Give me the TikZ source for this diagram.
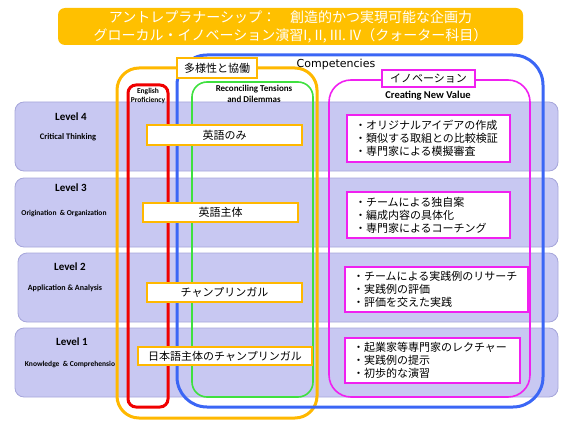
\documentclass[tikz,border=0pt]{standalone}
\usepackage{fontspec}
\setmainfont{Carlito}
\newfontfamily\jpfont{Noto Sans CJK JP}
\newfontfamily\compfont{DejaVu Sans}
\usetikzlibrary{positioning}
\definecolor{titleorange}{HTML}{FFC000}
\definecolor{grporange}{HTML}{FFB800}
\definecolor{grpred}{HTML}{F00000}
\definecolor{grpblue}{HTML}{3B66F5}
\definecolor{grpgreen}{HTML}{3FE03F}
\definecolor{grpmagenta}{HTML}{F020F0}
\definecolor{bandfill}{HTML}{C8C8F2}
\definecolor{bandline}{HTML}{A6A6DA}
\begin{document}
\begin{tikzpicture}[x=1pt, y=-1pt,
    band/.style={draw=bandline, fill=bandfill, line width=0.8pt, rounded corners=9pt},
    lvname/.style={font=\bfseries\fontsize{11}{13}\selectfont},
    lvsub/.style={font=\bfseries\fontsize{8}{9}\selectfont},
    group/.style={line width=3pt},
    thingroup/.style={line width=1.6pt},
    tagbox/.style={draw, fill=white, line width=1.8pt, inner sep=0pt, font=\jpfont\fontsize{11}{13}\selectfont},
    engbox/.style={draw=grporange, fill=white, line width=2pt, inner sep=0pt, font=\jpfont\fontsize{11}{13}\selectfont},
    listbox/.style={draw=grpmagenta, fill=white, line width=2pt, inner xsep=8pt, inner ysep=0pt, align=left,
      font=\jpfont\fontsize{11}{13}\selectfont},
    head/.style={font=\bfseries\fontsize{9}{11}\selectfont, align=center}]
  \useasboundingbox (0,0) rectangle (567,425);
  % title
  \node[fill=titleorange, rounded corners=7pt, minimum width=465pt, minimum height=37pt, inner sep=0pt,
    text=white, align=center, font=\jpfont\fontsize{14}{18}\selectfont] (title) at (290.5,26.5)
    {アントレプラナーシップ：　創造的かつ実現可能な企画力\\グローカル・イノベーション演習I, II, III. IV（クォーター科目）};
  % level bands
  \node[band, minimum width=543pt, minimum height=69pt] (lv4) at (286.5,136.5) {};
  \node[band, minimum width=543pt, minimum height=69pt] (lv3) at (286.5,212.5) {};
  \node[band, minimum width=540pt, minimum height=69pt] (lv2) at (288,287.5) {};
  \node[band, minimum width=543pt, minimum height=69pt] (lv1) at (286.5,362.5) {};
  \node[lvname] (lv4name) at (71,117) {Level 4};
  \node[lvsub, font=\bfseries\fontsize{8.5}{9}\selectfont] (lv4sub) at (68,137) {Critical Thinking};
  \node[lvname] (lv3name) at (71,188) {Level 3};
  \node[lvsub, font=\bfseries\fontsize{7.5}{9}\selectfont] (lv3sub) at (64,213) {Origination \ \&\ Organization};
  \node[lvname] (lv2name) at (70,267) {Level 2};
  \node[lvsub] (lv2sub) at (65,288) {Application \& Analysis};
  \node[lvname] (lv1name) at (72,342) {Level 1};
  \node[lvsub, font=\bfseries\fontsize{7.5}{9}\selectfont] (lv1sub) at (70,365) {Knowledge \ \&\ Comprehensio};
  % competency groups
  \draw[group, draw=grporange, rounded corners=22pt] (117,68) rectangle (317,418);
  \draw[group, draw=grpred, rounded corners=8pt] (128,85) rectangle (168,407);
  \draw[group, draw=grpblue, rounded corners=30pt] (177,55) rectangle (543,407);
  \draw[thingroup, draw=grpgreen, rounded corners=15pt] (192,82) rectangle (313,397);
  \draw[thingroup, draw=grpmagenta, rounded corners=22pt] (329,80) rectangle (530,397);
  \node[tagbox, draw=grporange, minimum width=80pt, minimum height=20pt] (diversity) at (217,68) {多様性と協働};
  \node[font=\compfont\fontsize{11}{12}\selectfont] (comp) at (336,64) {Competencies};
  \node[tagbox, draw=grpmagenta, minimum width=93pt, minimum height=17pt] (innov) at (428.5,78.5) {イノベーション};
  \node[head, font=\bfseries\fontsize{10.5}{12}\selectfont] (newvalue) at (428,96) {Creating New Value};
  \node[head, font=\bfseries\fontsize{7.5}{9.5}\selectfont] (english) at (148,96) {English\\Proficiency};
  \node[head] (tensions) at (254,93.5) {Reconciling Tensions\\and Dilemmas};
  % language of instruction
  \node[engbox, minimum width=155pt, minimum height=20pt] (eng4) at (224.5,135) {英語のみ};
  \node[engbox, minimum width=155pt, minimum height=19pt] (eng3) at (220.5,212.5) {英語主体};
  \node[engbox, minimum width=155pt, minimum height=19pt] (eng2) at (224.5,292.5) {チャンプリンガル};
  \node[engbox, minimum width=174pt, minimum height=18pt] (eng1) at (225,356) {日本語主体のチャンプリンガル};
  % innovation activities
  \node[listbox, text width=147pt, minimum height=47pt] (act4) at (428.5,138.5)
    {・オリジナルアイデアの作成\\・類似する取組との比較検証\\・専門家による模擬審査};
  \node[listbox, text width=147pt, minimum height=46pt] (act3) at (428.5,215)
    {・チームによる独自案\\・編成内容の具体化\\・専門家によるコーチング};
  \node[listbox, text width=167pt, minimum height=45pt] (act2) at (436.5,289.5)
    {・チームによる実践例のリサーチ\\・実践例の評価\\・評価を交えた実践};
  \node[listbox, text width=159pt, minimum height=45pt] (act1) at (432.5,360.5)
    {・起業家等専門家のレクチャー\\・実践例の提示\\・初歩的な演習};
\end{tikzpicture}
\end{document}
